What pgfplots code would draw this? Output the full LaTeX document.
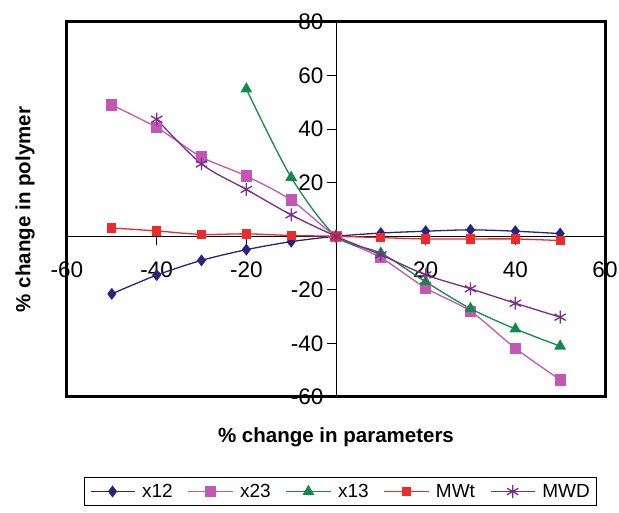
\documentclass[border=0pt]{standalone}
\usepackage{fontspec}
\setmainfont{Liberation Sans}
\usepackage{pgfplots}
\pgfplotsset{compat=1.18}
\definecolor{cxa}{HTML}{26267F}
\definecolor{cxb}{HTML}{C456B4}
\definecolor{cxc}{HTML}{13894A}
\definecolor{cmwt}{HTML}{EE2A2A}
\definecolor{cmwd}{HTML}{7C2A8C}

\begin{document}
\begin{tikzpicture}
\begin{axis}[
    width=538pt, height=375pt, scale only axis,
    xmin=-60, xmax=60, ymin=-60, ymax=80,
    clip=false,
    axis lines=middle,
    axis line style={-, black, line width=0.8pt},
    xtick={-60,-40,...,60}, ytick={-60,-40,...,80},
    xticklabels={-60,-40,-20,0,20,40,60},
    yticklabels={-60,-40,-20,0,20,40,60,80},
    tick align=outside, major tick length=9pt,
    tick style={black, line width=0.8pt},
    ticklabel style={font=\fontsize{22.5}{24}\selectfont},
    xticklabel style={yshift=-13pt},
    xlabel={\textbf{\% change in parameters}},
    ylabel={\textbf{\% change in polymer}},
    xlabel style={at={(axis description cs:0.5,-0.107)}, anchor=center, font=\fontsize{20.5}{23}\selectfont},
    ylabel style={at={(axis description cs:-0.078,0.5)}, anchor=center, rotate=90, font=\fontsize{20.5}{23}\selectfont},
    legend columns=5,
    legend style={at={(axis description cs:0.509,-0.214)}, anchor=north, draw=black, line width=0.8pt,
        font=\fontsize{19}{21}\selectfont, inner xsep=5pt, inner ysep=4.5pt,
        /tikz/every odd column/.append style={column sep=5pt},
        /tikz/every even column/.append style={column sep=13pt}},
    legend image code/.code={\draw[mark repeat=2,mark phase=2,line width=1.3pt] plot coordinates {(0pt,0pt)(22pt,0pt)(44pt,0pt)};},
    every axis plot/.append style={line width=1.3pt, smooth},
]
\addplot[cxa, mark=diamond*, mark size=5pt, mark options={fill=cxa}] coordinates {
    (-50,-21.5)(-40,-14.5)(-30,-9)(-20,-5)(-10,-2)(0,0)(10,1.2)(20,1.9)(30,2.4)(40,1.9)(50,1)};
\addlegendentry{x12}
\addplot[cxb, mark=square*, mark size=5pt, mark options={fill=cxb}] coordinates {
    (-50,49)(-40,40.6)(-30,29.6)(-20,22.5)(-10,13.5)(0,0)(10,-8)(20,-19.3)(30,-28)(40,-41.8)(50,-53.6)};
\addlegendentry{x23}
\addplot[cxc, mark=triangle*, mark size=5.5pt, mark options={fill=cxc}] coordinates {
    (-20,55)(-10,22)(0,0)(10,-6.3)(20,-17)(30,-27)(40,-34.6)(50,-41)};
\addlegendentry{x13}
\addplot[cmwt, mark=square*, mark size=4pt, mark options={fill=cmwt}] coordinates {
    (-50,3.1)(-40,2)(-30,0.7)(-20,0.9)(-10,0.3)(0,0)(10,-0.5)(20,-1)(30,-1)(40,-1)(50,-1.6)};
\addlegendentry{MWt}
\addplot[cmwd, mark=asterisk, mark size=6.5pt] coordinates {
    (-40,43.7)(-30,27)(-20,17.5)(-10,8)(0,0)(10,-6.9)(20,-14.4)(30,-19.6)(40,-25)(50,-30.2)};
\addlegendentry{MWD}
\draw[line width=3pt] (rel axis cs:0,0) rectangle (rel axis cs:1,1);
\coordinate (ll) at (rel axis cs:0,0);
\coordinate (ur) at (rel axis cs:1,1);
\end{axis}
\pgfresetboundingbox
\path[use as bounding box] ([shift={(-67pt,-116pt)}]ll) rectangle ([shift={(14pt,22pt)}]ur);
\end{tikzpicture}
\end{document}
